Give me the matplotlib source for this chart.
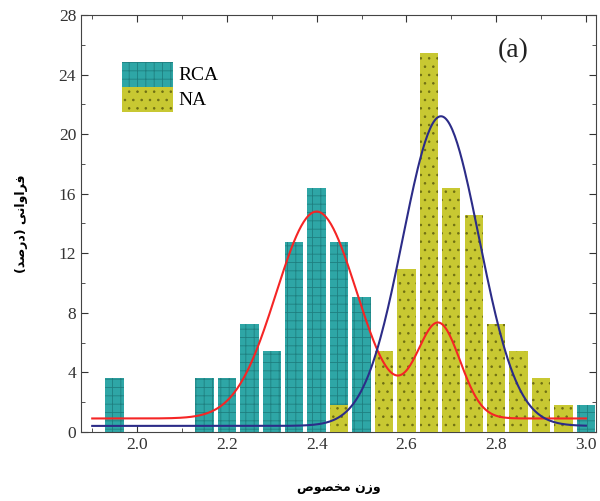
import numpy as np
import matplotlib
matplotlib.use("Agg")
import matplotlib.pyplot as plt
from matplotlib.patches import Patch
from matplotlib.ticker import MultipleLocator

# histogram bins (percent of samples)
rca_x = [1.95, 2.15, 2.20, 2.25, 2.30, 2.35, 2.40, 2.45, 2.50, 3.00]
rca_y = [3.64, 3.64, 3.64, 7.27, 5.45, 12.73, 16.36, 12.73, 9.09, 1.82]
na_x = [2.45, 2.55, 2.60, 2.65, 2.70, 2.75, 2.80, 2.85, 2.90, 2.95]
na_y = [1.82, 5.45, 10.91, 25.45, 16.36, 14.55, 7.27, 5.45, 3.64, 1.82]

# gauss fit parameters: baseline, (center, sigma, amplitude)
rca_fit_base = 0.9
rca_fit_peaks = [(2.40, 0.09, 13.9), (2.672, 0.048, 6.3)]
na_fit_base = 0.4
na_fit_peaks = [(2.677, 0.085, 20.8)]
fit_range = (1.90, 3.00)

plt.rcParams['font.family'] = ['Liberation Serif', 'DejaVu Serif']
plt.rcParams['hatch.linewidth'] = 0.6

fig = plt.figure(figsize=(6.0, 5.01), dpi=100)
ax = fig.add_axes([0.135, 0.138, 0.858, 0.832])

teal, teal_h = '#2ea6a6', '#1f7f80'
yel, yel_h = '#c8c832', '#6e6e14'

ax.bar(rca_x, rca_y, width=0.041, color=teal, edgecolor=teal_h, linewidth=0, hatch='++', zorder=2)
ax.bar(na_x, na_y, width=0.041, color=yel, edgecolor=yel_h, linewidth=0, hatch='..', zorder=3)

xs = np.linspace(fit_range[0], fit_range[1], 400)
def gauss_sum(base, peaks):
    y = np.full_like(xs, base)
    for c, s, a in peaks:
        y += a * np.exp(-(xs - c) ** 2 / (2 * s ** 2))
    return y

ax.plot(xs, gauss_sum(rca_fit_base, rca_fit_peaks), color='#f52525', lw=1.5, zorder=4)
ax.plot(xs, gauss_sum(na_fit_base, na_fit_peaks), color='#2c2c88', lw=1.5, zorder=5)

ax.set_xlim(1.875, 3.022)
ax.set_ylim(0, 28)
ax.xaxis.set_major_locator(MultipleLocator(0.2))
ax.xaxis.set_minor_locator(MultipleLocator(0.1))
ax.yaxis.set_major_locator(MultipleLocator(4))
ax.yaxis.set_minor_locator(MultipleLocator(2))
ax.tick_params(which='both', direction='in', top=True, right=True, labelsize=12.5, colors='#333333')
ax.tick_params(which='major', length=5)
ax.tick_params(which='minor', length=3)
for sp in ax.spines.values():
    sp.set_color('#444444')

# Persian labels written in presentation forms (visual order)
xlab = '\ufeb9\ufeee\ufebc\ufea8\ufee3 \ufee5\ufeaf\ufeed'
ylab = '(\ufeaa\ufebb\ufead\ufea9) \ufef0\ufee7\ufe8d\ufeed\ufe8d\ufeae\ufed3'
ax.set_xlabel(xlab, family=['DejaVu Sans'], fontsize=9, fontweight='bold', labelpad=20)
ax.set_ylabel(ylab, family=['DejaVu Sans'], fontsize=9, fontweight='bold', labelpad=22)

handles = [Patch(facecolor=teal, edgecolor=teal_h, linewidth=0, hatch='++'),
           Patch(facecolor=yel, edgecolor=yel_h, linewidth=0, hatch='..')]
ax.legend(handles, ['RCA', 'NA'], loc='upper left', bbox_to_anchor=(0.065, 0.907),
          frameon=False, fontsize=14, handlelength=2.6, handleheight=1.6,
          labelspacing=0.0, handletextpad=0.3, borderaxespad=0)

ax.text(0.84, 0.915, '(a)', transform=ax.transAxes, fontsize=20, ha='center', va='center', color='#222222')

fig.savefig('out.png', dpi=100)
